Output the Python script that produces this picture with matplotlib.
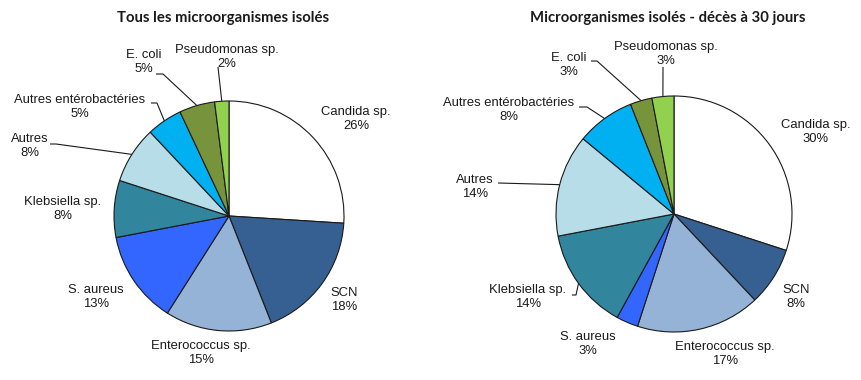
import numpy as np
import matplotlib
matplotlib.use("Agg")
import matplotlib.pyplot as plt

# ---------------- data ----------------
categories = ["Candida sp.", "SCN", "Enterococcus sp.", "S. aureus", "Klebsiella sp.",
              "Autres", "Autres entérobactéries", "E. coli", "Pseudomonas sp."]
all_values = [26, 18, 15, 13, 8, 8, 5, 5, 2]
death_values = [30, 8, 17, 3, 14, 14, 8, 3, 3]
titles = ["Tous les microorganismes isolés", "Microorganismes isolés - décès à 30 jours"]

# ---------------- style / layout ----------------
colors = ["#FFFFFF", "#376092", "#95B3D7", "#3366FF", "#31859C",
          "#B7DEE8", "#00B0F0", "#77933C", "#92D050"]
W, H = 862, 380

# pie centres / radii in pixel coordinates (y down)
pie_layout = [((229, 216), 115), ((674, 214), 118)]
title_pos = [(223, 18), (668, 18)]

# label centres (pixels)
label_pos_left = [(356, 119), (344, 300), (201, 353), (96, 297), (63, 209),
                  (30, 146), (80, 107), (144, 62), (227, 57)]
label_pos_right = [(816, 132), (796, 297), (725, 354), (588, 344), (528, 297),
                   (475, 187), (509, 110), (569, 65), (666, 54)]
# leader lines: (start, knee) in pixels, None = no leader
leaders_left = [None, None, None, None, None,
                ((50, 144), (56, 144)), ((151, 103), (157, 103)),
                ((156, 74), (163, 74)), ((218, 67), None)]
leaders_right = [None, None, None, None, ((572, 295), (576, 295)),
                 ((498, 183), None), ((579, 107), (587, 107)),
                 ((591, 61), (597, 61)), ((663, 67), None)]


def P(x, y):
    return x, H - y


fig = plt.figure(figsize=(W / 100, H / 100), dpi=100)
ax = fig.add_axes([0, 0, 1, 1])

label_font = dict(family=["Liberation Sans", "DejaVu Sans"], size=9.4, color="#1a1a1a")

for k, (vals, labpos, leaders) in enumerate([
        (all_values, label_pos_left, leaders_left),
        (death_values, label_pos_right, leaders_right)]):
    (cx, cy), r = pie_layout[k]
    wedges, _ = ax.pie(vals, colors=colors, startangle=90, counterclock=False,
                       center=P(cx, cy), radius=r,
                       wedgeprops=dict(edgecolor="#1a1a1a", linewidth=0.8))
    total = sum(vals)
    for i, w in enumerate(wedges):
        pct = round(100 * vals[i] / total)
        tx, ty = labpos[i]
        ax.text(*P(tx, ty), f"{categories[i]}\n{pct}%", ha="center", va="center",
                linespacing=1.15, **label_font)
        ld = leaders[i]
        if ld is not None:
            mid = np.deg2rad((w.theta1 + w.theta2) / 2)
            ax_, ay_ = w.center
            anchor = (ax_ + w.r * np.cos(mid), ay_ + w.r * np.sin(mid))
            pts = [P(*ld[0])]
            if ld[1] is not None:
                pts.append(P(*ld[1]))
            pts.append(anchor)
            xs, ys = zip(*pts)
            ax.plot(xs, ys, color="#1a1a1a", lw=0.8, solid_capstyle="butt")
    ax.text(*P(*title_pos[k]), titles[k], ha="center", va="center",
            family=["Lato", "DejaVu Sans"], weight="bold", size=10.7, color="#1a1a1a")

ax.set_xlim(0, W)
ax.set_ylim(0, H)
ax.set_aspect("equal")
ax.axis("off")
fig.savefig("out.png", dpi=100, facecolor="white")
